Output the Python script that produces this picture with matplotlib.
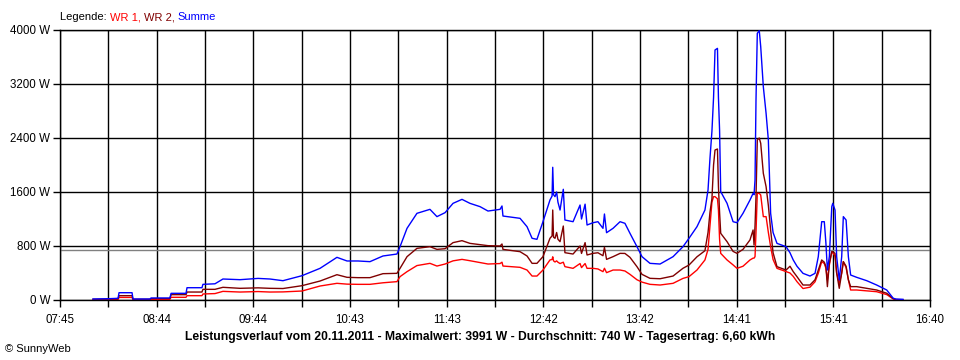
import matplotlib
matplotlib.use("Agg")
import matplotlib.pyplot as plt
import numpy as np

# time in minutes after midnight
t_min = [485.3, 495.7, 500.7, 501.3, 509.3, 509.9, 520.3, 521.0, 532.6, 533.3,
         542.5, 543.1, 552.3, 552.9, 560.3, 565.2, 575.7, 586.8, 594.1, 602.1,
         613.8, 624.9, 635.3, 641.5, 648.3, 655.6, 663.6, 672.2, 674.1, 678.4,
         684.5, 692.5, 696.8, 701.8, 706.7, 712.2, 717.1, 723.3, 728.2, 735.6,
         736.8, 737.4, 747.9, 752.2, 755.3, 758.3, 762.0, 766.3, 767.6, 768.0,
         768.5, 769.4, 770.4, 771.2, 772.5, 774.5, 775.5, 780.5, 784.8, 785.7,
         787.9, 789.1, 792.8, 795.8, 798.9, 799.8, 801.1, 805.1, 809.4, 812.4,
         815.5, 819.8, 822.9, 827.8, 834.0, 842.0, 848.1, 851.8, 856.7, 861.6,
         863.5, 864.7, 865.9, 866.9, 867.8, 869.3, 869.9, 870.6, 871.3, 875.2,
         878.9, 881.3, 885.0, 889.3, 891.2, 891.8, 892.4, 893.0, 893.8, 895.0,
         895.9, 897.5, 899.2, 900.6, 902.0, 903.5, 905.9, 911.5, 913.9, 915.9,
         918.2, 921.9, 926.2, 929.3, 931.3, 933.4, 935.0, 936.0, 936.9, 938.1,
         939.6, 940.2, 941.6, 942.6, 944.2, 945.7, 946.7, 948.4, 949.8, 951.2,
         954.9, 961.1, 967.2, 973.4, 977.4, 979.1, 983.4]

summe = [15, 20, 25, 108, 108, 15, 15, 30, 30, 99,
         99, 182, 182, 232, 240, 311, 301, 320, 311, 286,
         360, 469, 632, 578, 578, 568, 652, 681, 790, 1062,
         1284, 1343, 1235, 1294, 1432, 1491, 1432, 1383, 1318, 1343,
         1393, 1244, 1210, 1086, 914, 899, 1160, 1481, 1540, 1966,
         1560, 1531, 1600, 1450, 1333, 1640, 1185, 1160, 1407, 1200,
         1420, 1111, 1145, 1160, 1062, 1274, 997, 1062, 1160, 1136,
         988, 790, 642, 543, 533, 642, 790, 914, 1086, 1333,
         1630, 2100, 2500, 3000, 3704, 3728, 3000, 2519, 1605, 1432,
         1160, 1145, 1284, 1481, 1580, 1560, 1778, 2963, 3951, 3991,
         3753, 3160, 2765, 2370, 1284, 1000, 839, 790, 700, 593,
         500, 395, 355, 395, 642, 1160, 1160, 839, 444, 642,
         1383, 1432, 1333, 642, 296, 642, 1235, 1185, 642, 370,
         336, 286, 222, 148, 25, 15, 10]

wr1 = [0, 5, 8, 38, 38, 5, 5, 10, 10, 40,
       40, 64, 64, 89, 95, 128, 118, 125, 118, 120,
       133, 207, 247, 235, 232, 232, 255, 272, 346, 420,
       510, 543, 503, 533, 580, 602, 582, 555, 533, 540,
       560, 503, 484, 444, 355, 355, 444, 593, 600, 640,
       580, 563, 580, 560, 540, 560, 494, 469, 540, 480,
       540, 469, 469, 460, 420, 470, 405, 444, 444, 430,
       380, 300, 265, 232, 222, 247, 320, 346, 444, 593,
       750, 1100, 1450, 1531, 1531, 1500, 1333, 900, 691, 593,
       520, 469, 500, 593, 620, 620, 642, 1000, 1580, 1580,
       1556, 1235, 1235, 1000, 790, 600, 469, 420, 400, 350,
       272, 170, 190, 270, 395, 568, 540, 470, 296, 518,
       716, 700, 650, 400, 247, 400, 568, 480, 300, 148,
       148, 135, 123, 80, 15, 0, 0]

wr2 = [10, 12, 15, 64, 64, 10, 10, 20, 20, 79,
       79, 118, 118, 158, 158, 188, 173, 180, 173, 170,
       212, 281, 375, 336, 331, 331, 390, 395, 469, 642,
       765, 790, 750, 760, 850, 879, 839, 820, 805, 800,
       830, 750, 716, 652, 543, 543, 642, 914, 950, 1333,
       930, 914, 1000, 900, 864, 1096, 701, 681, 800, 690,
       850, 667, 691, 700, 656, 780, 602, 642, 691, 690,
       632, 494, 380, 321, 315, 355, 470, 518, 640, 730,
       1000, 1300, 1500, 2000, 2222, 2237, 1679, 1300, 988, 864,
       720, 691, 750, 890, 1037, 815, 1100, 1531, 2370, 2400,
       2321, 1877, 1679, 1400, 1037, 700, 494, 444, 500, 420,
       346, 222, 222, 300, 444, 593, 560, 494, 198, 543,
       716, 716, 691, 400, 173, 400, 568, 500, 300, 198,
       198, 173, 148, 100, 20, 0, 0]

tick_labels = ["07:45", "08:44", "09:44", "10:43", "11:43",
               "12:42", "13:42", "14:41", "15:41", "16:40"]
y_ticks = [0, 800, 1600, 2400, 3200, 4000]
average = 740
title = ("Leistungsverlauf vom 20.11.2011 - Maximalwert: 3991 W - "
         "Durchschnitt: 740 W - Tagesertrag: 6,60 kWh")

plt.rcParams['font.family'] = ['Liberation Sans', 'DejaVu Sans']

fig = plt.figure(figsize=(9.6, 3.6), dpi=100)
ax = fig.add_axes([60/960, 60/360, 870/960, 270/360])

t0, t1 = 465, 1000
ax.set_xlim(t0, t1)
ax.set_ylim(0, 4000)

major = np.linspace(t0, t1, 10)
minor = np.linspace(t0, t1, 19)
ax.set_xticks(major)
ax.set_xticklabels(tick_labels)
ax.set_xticks(minor, minor=True)
ax.set_yticks(y_ticks)
ax.set_yticklabels([f"{v} W" for v in y_ticks])

for x in minor:
    ax.axvline(x, color='black', lw=1.0, zorder=1)
for y in y_ticks:
    ax.axhline(y, color='black', lw=1.0, zorder=1)
ax.axhline(average, color='#808080', lw=1.0, zorder=1)

ax.tick_params(axis='both', which='both', length=5, width=1.0, color='black',
               labelsize=8.3, pad=2)
ax.tick_params(axis='x', pad=5)
for s in ax.spines.values():
    s.set_color('black')
    s.set_linewidth(1.0)

ax.plot(t_min, wr1, color='#FF0000', lw=1.0, zorder=3)
ax.plot(t_min, wr2, color='#800000', lw=1.0, zorder=3)
ax.plot(t_min, summe, color='#0000FF', lw=1.0, zorder=3)

# legend line
txt = fig.text(60/960, 1 - 17/360, "Legende: ", color='black', fontsize=8,
               va='center', ha='left')
parts = [("WR 1, ", '#FF0000'), ("WR 2, ", '#800000'), ("Summe", '#0000FF')]
prev = txt
for s, c in parts:
    prev = ax.annotate(s, xy=(1, 0), xycoords=prev, xytext=(0, 0),
                       textcoords='offset points', color=c, fontsize=8,
                       va='bottom', ha='left', annotation_clip=False)

fig.text(480/960, 1 - 337/360, title, fontsize=8.7, fontweight='bold',
         ha='center', va='center')
fig.text(5/960, 1 - 349/360, "\u00a9 SunnyWeb", fontsize=8,
         ha='left', va='center')

fig.savefig("out.png", dpi=100)
